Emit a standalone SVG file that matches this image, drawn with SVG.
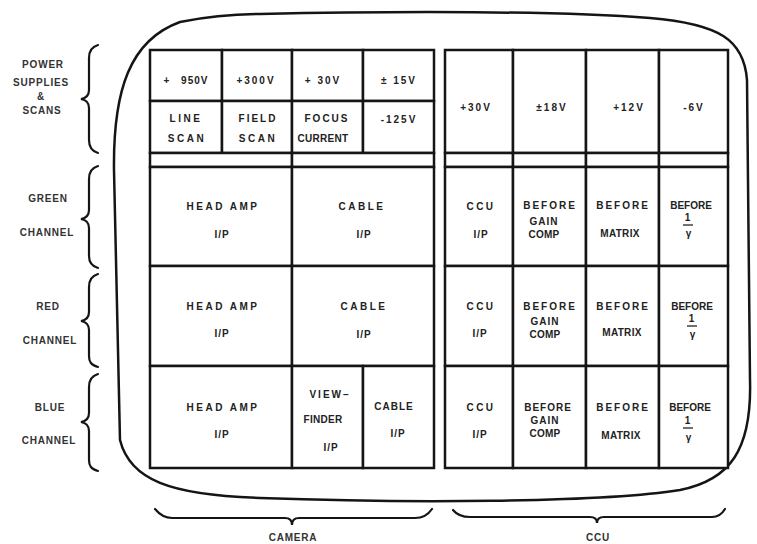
<svg xmlns="http://www.w3.org/2000/svg" width="757" height="544" viewBox="0 0 757 544">
<style>
.c{fill:#fff;stroke:#151515;stroke-width:2.5}
.t{font-family:"Liberation Sans",Arial,sans-serif;font-weight:bold;font-size:10px;fill:#222;text-anchor:middle;letter-spacing:1px}
.w{letter-spacing:2.5px}
.s{letter-spacing:0.3px}
.l{font-family:"Liberation Sans",Arial,sans-serif;font-weight:bold;font-size:10px;fill:#333;text-anchor:middle;letter-spacing:0.8px}
.br{fill:none;stroke:#151515;stroke-width:2.2;stroke-linecap:round}
.bar{stroke:#222;stroke-width:1.3}
</style>
<rect width="757" height="544" fill="#fff"/>
<path d="M260 14 C400 11 560 11 650 18 C720 24 744 40 747 80 L750 380 C752 450 730 480 680 490 C600 503 400 503 260 498 C170 495 130 480 120 440 L114 170 C113 90 130 40 180 22 C210 16 235 14 260 14 Z" fill="none" stroke="#151515" stroke-width="2.5"/>

<g id="ps950"><rect class="c" x="150" y="50" width="72" height="51"/><text class="t" x="186" y="84" word-spacing="7">+ 950V</text></g>
<g id="ps300"><rect class="c" x="222" y="50" width="70" height="51"/><text class="t" x="256" y="84" style="letter-spacing:2px">+300V</text></g>
<g id="ps30"><rect class="c" x="292" y="50" width="71" height="51"/><text class="t" x="323" y="84" style="letter-spacing:2px">+ 30V</text></g>
<g id="ps15"><rect class="c" x="363" y="50" width="71" height="51"/><text class="t" x="399" y="84" style="letter-spacing:2px">± 15V</text></g>
<g id="linescan"><rect class="c" x="150" y="101" width="72" height="52"/><text class="t w" x="186" y="122">LINE</text><text class="t w" x="187" y="142">SCAN</text></g>
<g id="fieldscan"><rect class="c" x="222" y="101" width="70" height="52"/><text class="t" x="258" y="122" style="letter-spacing:2px">FIELD</text><text class="t w" x="258" y="142">SCAN</text></g>
<g id="focus"><rect class="c" x="292" y="101" width="71" height="52"/><text class="t" x="327" y="122" style="letter-spacing:2px">FOCUS</text><text class="t s" x="323" y="142">CURRENT</text></g>
<g id="ps125"><rect class="c" x="363" y="101" width="71" height="52"/><text class="t" x="399" y="123" style="letter-spacing:2px">-125V</text></g>
<g id="gapL"><rect class="c" x="150" y="153" width="142" height="14"/><rect class="c" x="292" y="153" width="142" height="14"/></g>

<g id="ps30r"><rect class="c" x="445" y="50" width="68" height="103"/><text class="t" x="476" y="111" style="letter-spacing:2px">+30V</text></g>
<g id="ps18"><rect class="c" x="513" y="50" width="73" height="103"/><text class="t" x="552" y="111" style="letter-spacing:2px">±18V</text></g>
<g id="ps12"><rect class="c" x="586" y="50" width="73" height="103"/><text class="t" x="629" y="111" style="letter-spacing:2px">+12V</text></g>
<g id="ps6"><rect class="c" x="659" y="50" width="69" height="103"/><text class="t" x="694" y="111" style="letter-spacing:2px">-6V</text></g>
<g id="gapR"><rect class="c" x="445" y="153" width="68" height="14"/><rect class="c" x="513" y="153" width="73" height="14"/><rect class="c" x="586" y="153" width="73" height="14"/><rect class="c" x="659" y="153" width="69" height="14"/></g>

<g id="g-head"><rect class="c" x="150" y="167" width="142" height="99"/><text class="t w" x="223" y="210">HEAD AMP</text><text class="t" x="222" y="238">I/P</text></g>
<g id="g-cable"><rect class="c" x="292" y="167" width="142" height="99"/><text class="t w" x="362" y="210">CABLE</text><text class="t" x="364" y="238">I/P</text></g>
<g id="g-ccu"><rect class="c" x="445" y="167" width="68" height="99"/><text class="t w" x="481" y="210">CCU</text><text class="t" x="481" y="238">I/P</text></g>
<g id="g-gain"><rect class="c" x="513" y="167" width="73" height="99"/><text class="t" x="550" y="209" style="letter-spacing:2px">BEFORE</text><text class="t" x="544" y="225">GAIN</text><text class="t s" x="544" y="238">COMP</text></g>
<g id="g-matrix"><rect class="c" x="586" y="167" width="73" height="99"/><text class="t" x="623" y="209" style="letter-spacing:2px">BEFORE</text><text class="t s" x="620" y="237">MATRIX</text></g>
<g id="g-gamma"><rect class="c" x="659" y="167" width="69" height="99"/><text class="t" x="691" y="209" style="letter-spacing:0">BEFORE</text><text class="t" x="688" y="221">1</text><line class="bar" x1="683" y1="225" x2="693" y2="225"/><text class="t" x="689" y="237">γ</text></g>

<g id="r-head"><rect class="c" x="150" y="266" width="142" height="100"/><text class="t w" x="223" y="310">HEAD AMP</text><text class="t" x="222" y="337">I/P</text></g>
<g id="r-cable"><rect class="c" x="292" y="266" width="142" height="100"/><text class="t w" x="364" y="310">CABLE</text><text class="t" x="364" y="338">I/P</text></g>
<g id="r-ccu"><rect class="c" x="445" y="266" width="68" height="100"/><text class="t w" x="481" y="310">CCU</text><text class="t" x="480" y="337">I/P</text></g>
<g id="r-gain"><rect class="c" x="513" y="266" width="73" height="100"/><text class="t" x="550" y="310" style="letter-spacing:2px">BEFORE</text><text class="t" x="545" y="325">GAIN</text><text class="t s" x="545" y="338">COMP</text></g>
<g id="r-matrix"><rect class="c" x="586" y="266" width="73" height="100"/><text class="t" x="623" y="310" style="letter-spacing:2px">BEFORE</text><text class="t s" x="622" y="336">MATRIX</text></g>
<g id="r-gamma"><rect class="c" x="659" y="266" width="69" height="100"/><text class="t" x="692" y="310" style="letter-spacing:0">BEFORE</text><text class="t" x="692" y="322">1</text><line class="bar" x1="687" y1="326" x2="697" y2="326"/><text class="t" x="693" y="338">γ</text></g>

<g id="b-head"><rect class="c" x="150" y="366" width="142" height="102"/><text class="t w" x="223" y="411">HEAD AMP</text><text class="t" x="222" y="438">I/P</text></g>
<g id="b-view"><rect class="c" x="292" y="366" width="71" height="102"/><text class="t" x="330" y="398" style="letter-spacing:2px">VIEW–</text><text class="t s" x="323" y="423">FINDER</text><text class="t" x="331" y="451">I/P</text></g>
<g id="b-cable"><rect class="c" x="363" y="366" width="71" height="102"/><text class="t" x="394" y="410">CABLE</text><text class="t" x="398" y="437">I/P</text></g>
<g id="b-ccu"><rect class="c" x="445" y="366" width="68" height="102"/><text class="t w" x="481" y="411">CCU</text><text class="t" x="480" y="438">I/P</text></g>
<g id="b-gain"><rect class="c" x="513" y="366" width="73" height="102"/><text class="t" x="548" y="411">BEFORE</text><text class="t" x="545" y="424">GAIN</text><text class="t s" x="545" y="437">COMP</text></g>
<g id="b-matrix"><rect class="c" x="586" y="366" width="73" height="102"/><text class="t" x="623" y="411" style="letter-spacing:2px">BEFORE</text><text class="t s" x="621" y="439">MATRIX</text></g>
<g id="b-gamma"><rect class="c" x="659" y="366" width="69" height="102"/><text class="t" x="690" y="411" style="letter-spacing:0">BEFORE</text><text class="t" x="688" y="424">1</text><line class="bar" x1="683" y1="428" x2="693" y2="428"/><text class="t" x="689" y="441">γ</text></g>

<g id="braces">
<path class="br" d="M98 45 C91 47 89 52 89 58 L89 90 C89 95 87 98 81 99 C87 100 89 103 89 108 L89 140 C89 146 91 151 98 153"/>
<path class="br" d="M98 166 C91 168 89 173 89 179 L89 210 C89 215 87 218 81 219 C87 220 89 223 89 228 L89 256 C89 262 91 266 98 268"/>
<path class="br" d="M98 274 C91 276 89 281 89 287 L89 312 C89 317 87 320 81 321 C87 322 89 325 89 330 L89 356 C89 362 91 365 98 367"/>
<path class="br" d="M98 374 C91 376 89 381 89 387 L89 413 C89 418 87 421 81 422 C87 423 89 426 89 431 L89 460 C89 466 91 469 98 471"/>
<path class="br" d="M155 509 C160 515 165 518 172 518 L285 518 C289 518 292 520 292 525 C292 520 295 518 299 518 L415 518 C423 518 428 515 432 509"/>
<path class="br" d="M453 510 C457 515 462 517 470 517 L590 517 C594 517 597 519 597 523 C597 519 600 517 604 517 L712 517 C718 517 722 514 725 509"/>
</g>

<g id="labels">
<text class="l" x="43" y="68">POWER</text>
<text class="l" x="41" y="86">SUPPLIES</text>
<text class="l" x="41" y="100">&amp;</text>
<text class="l" x="42" y="114">SCANS</text>
<text class="l" x="48" y="202">GREEN</text>
<text class="l" x="47" y="236">CHANNEL</text>
<text class="l" x="48" y="310">RED</text>
<text class="l" x="50" y="344">CHANNEL</text>
<text class="l" x="50" y="411">BLUE</text>
<text class="l" x="49" y="444">CHANNEL</text>
<text class="l" x="293" y="541">CAMERA</text>
<text class="l" x="598" y="541">CCU</text>
</g>
</svg>
